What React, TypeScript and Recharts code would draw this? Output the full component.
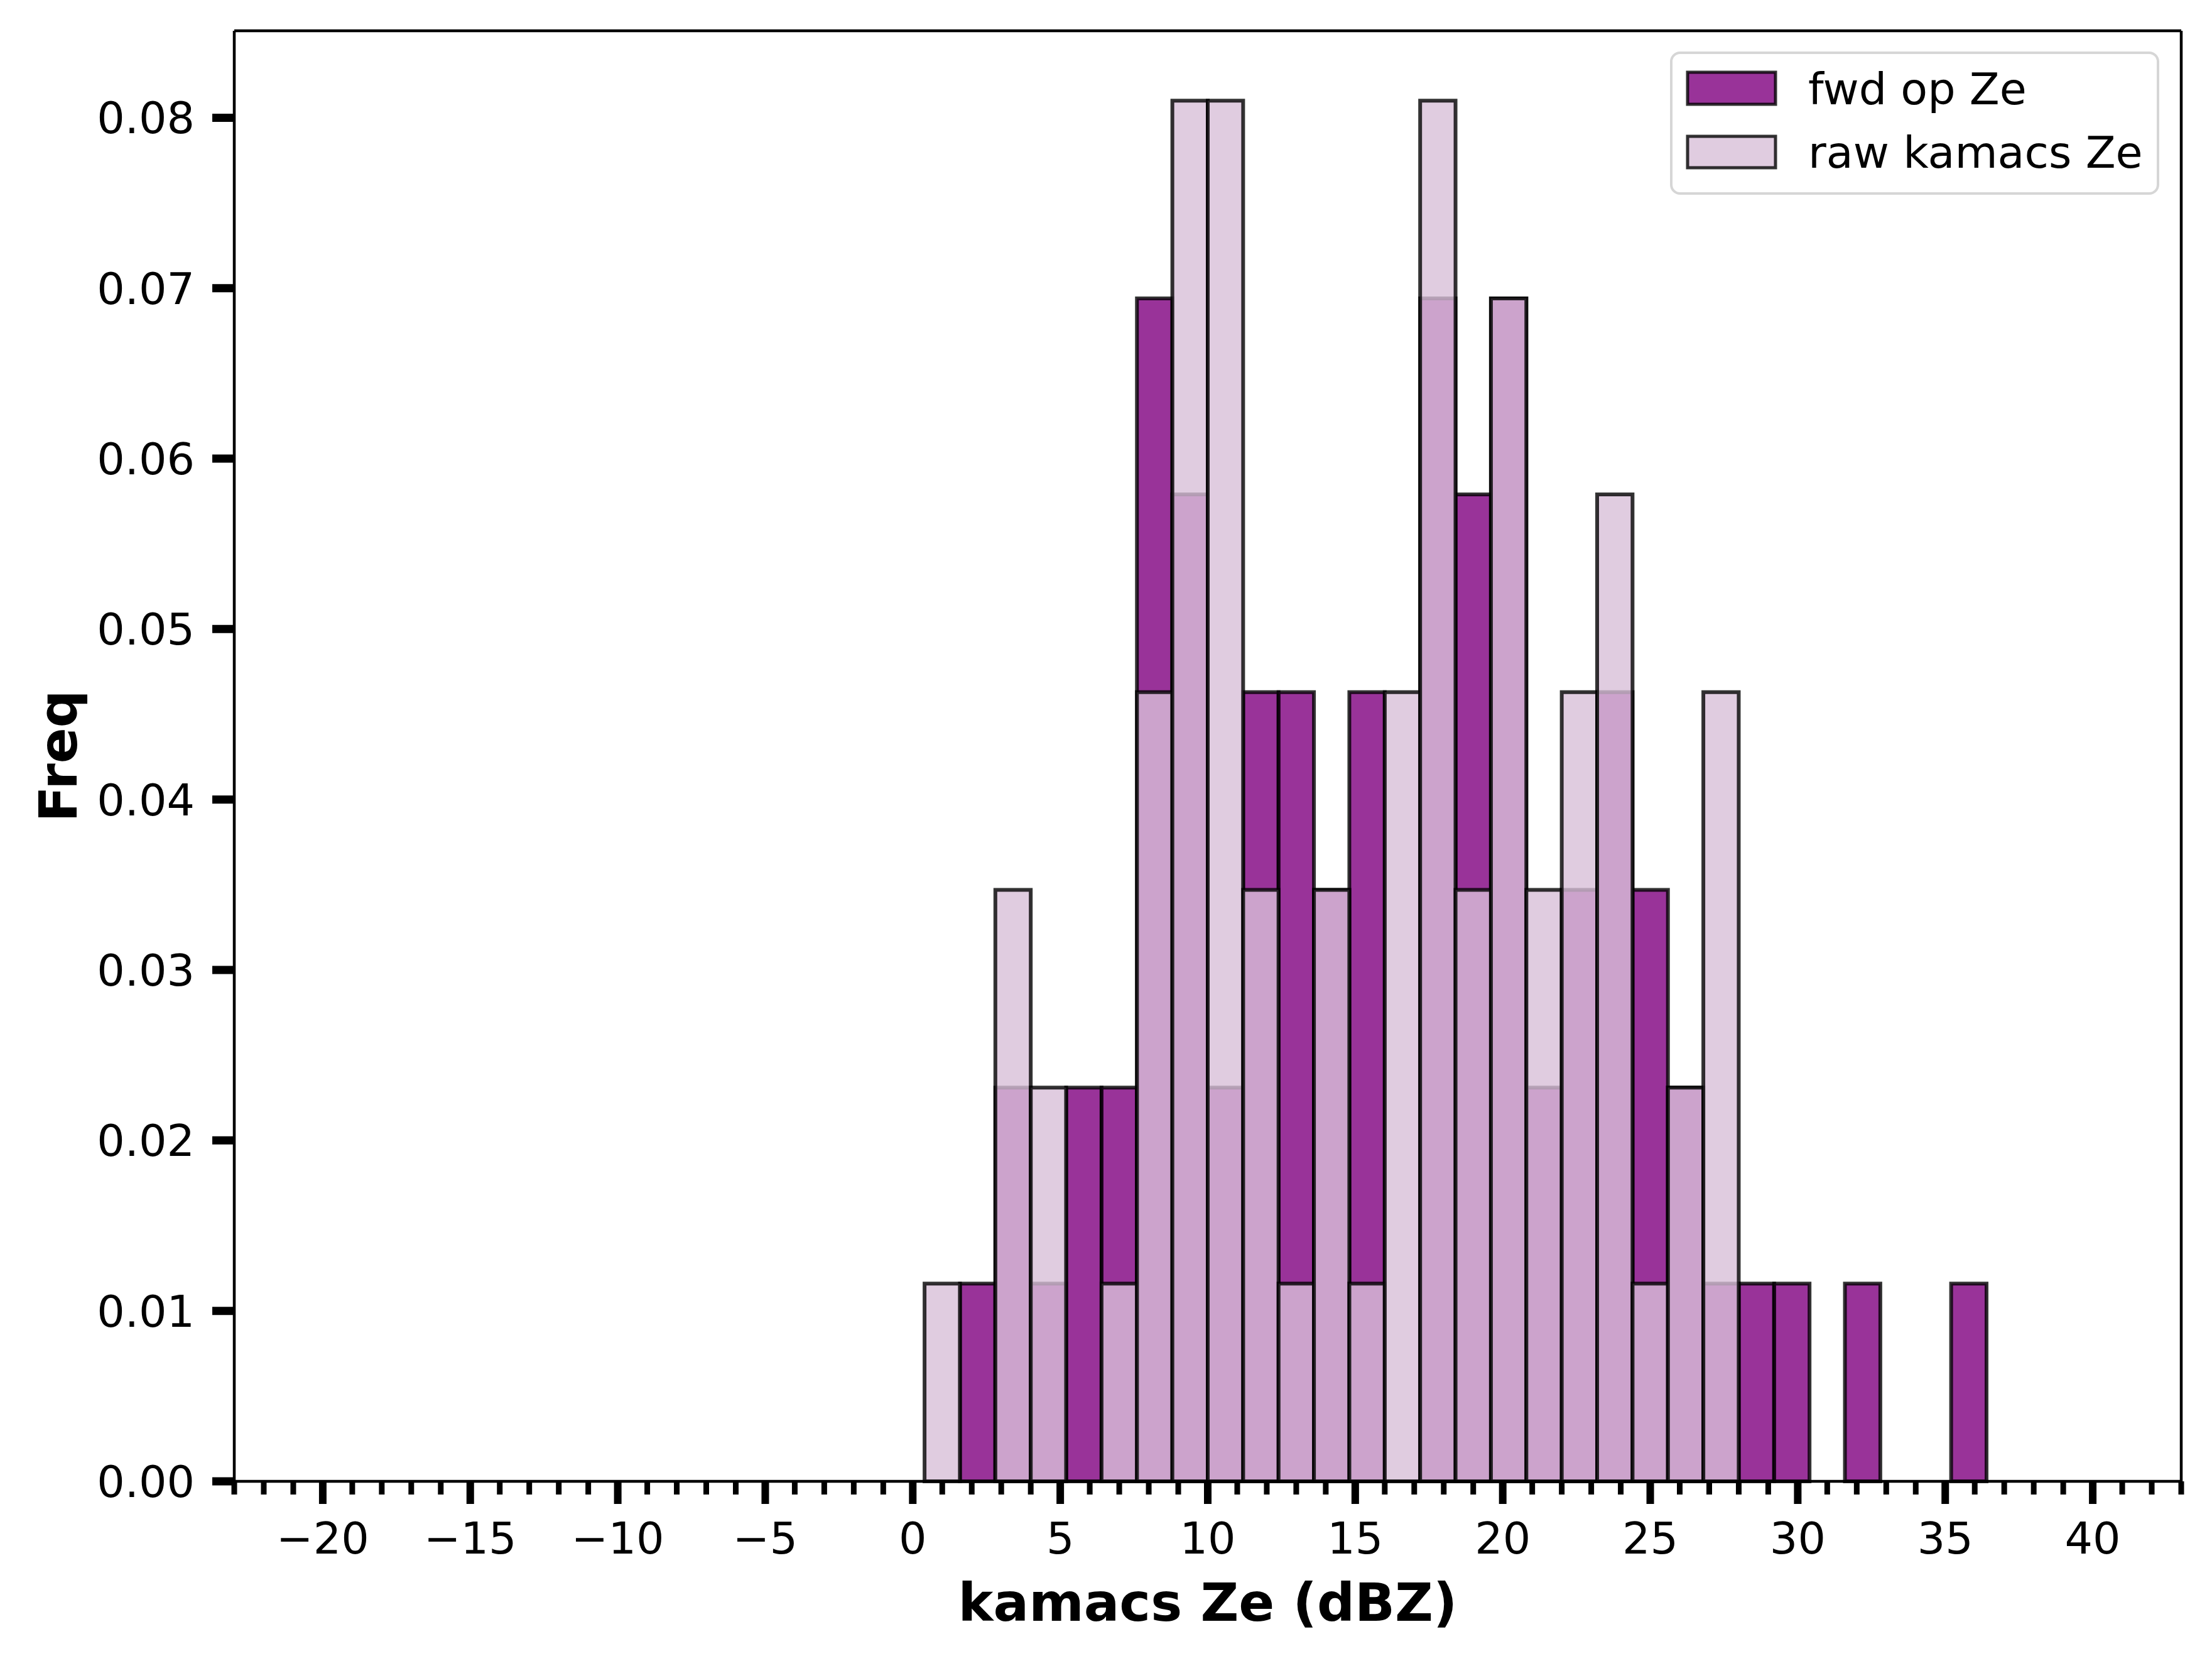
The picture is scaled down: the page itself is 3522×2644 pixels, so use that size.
import { ComposedChart, XAxis, YAxis, ReferenceArea, ReferenceLine, Legend } from "recharts";

// histogram bin edges (dBZ), 30 bins of 1.2
const binEdges = [
  0.4, 1.6, 2.8, 4.0, 5.2, 6.4, 7.6, 8.8, 10.0, 11.2, 12.4, 13.6, 14.8, 16.0, 17.2, 18.4,
  19.6, 20.8, 22.0, 23.2, 24.4, 25.6, 26.8, 28.0, 29.2, 30.4, 31.6, 32.8, 34.0, 35.2, 36.4
];

const fwdOpZe = [
  0, 0.0116, 0.0231, 0.0116, 0.0231, 0.0231, 0.0694, 0.0579, 0.0231, 0.0463, 0.0463, 0.0347,
  0.0463, 0, 0.0694, 0.0579, 0.0694, 0.0231, 0.0347, 0.0463, 0.0347, 0.0231, 0.0116, 0.0116,
  0.0116, 0, 0.0116, 0, 0, 0.0116
];

const rawKamacsZe = [
  0.0116, 0, 0.0347, 0.0231, 0, 0.0116, 0.0463, 0.081, 0.081, 0.0347, 0.0116, 0.0347, 0.0116,
  0.0463, 0.081, 0.0347, 0.0694, 0.0347, 0.0463, 0.0579, 0.0116, 0.0231, 0.0463, 0, 0, 0, 0,
  0, 0, 0
];

const seriesNames = ["fwd op Ze", "raw kamacs Ze"];
const xDomain = [-23, 43];
const yDomain = [0, 0.0851];
const xMajorTicks = [-20, -15, -10, -5, 0, 5, 10, 15, 20, 25, 30, 35, 40];
const xMinorTicks = Array.from({ length: 67 }, (_, i) => i - 23);
const yTicks = [0, 0.01, 0.02, 0.03, 0.04, 0.05, 0.06, 0.07, 0.08];

const bins = fwdOpZe.map((fwd, i) => ({
  x0: binEdges[i],
  x1: binEdges[i + 1],
  fwd,
  raw: rawKamacsZe[i]
}));

const FONT = "DejaVu Sans";
const FWD_FILL = "#800080";
const RAW_FILL = "#d8bfd8";
const SPINE = 4.5;

function fmtX(v: number) {
  return v < 0 ? `\u2212${-v}` : `${v}`;
}

function XTick(props: any) {
  const { x, y, payload } = props;
  const v = payload.value;
  const major = xMajorTicks.includes(v);
  return (
    <g>
      <line x1={x} x2={x} y1={y} y2={y + (major ? 36 : 21)} stroke="#000" strokeWidth={major ? 12 : 9} />
      {major && (
        <text x={x} y={y + 115} textAnchor="middle" fontFamily={FONT} fontSize={70} fill="#000">
          {fmtX(v)}
        </text>
      )}
    </g>
  );
}

function YTick(props: any) {
  const { x, y, payload } = props;
  return (
    <g>
      <line x1={x - 35} x2={x} y1={y} y2={y} stroke="#000" strokeWidth={13} />
      <text x={x - 63} y={y + 25} textAnchor="end" fontFamily={FONT} fontSize={70} fill="#000">
        {payload.value.toFixed(2)}
      </text>
    </g>
  );
}

function LegendBox() {
  return (
    <svg width={790} height={240} style={{ display: "block" }}>
      <rect x={6} y={6} width={775} height={224} rx={14} fill="#fff" fillOpacity={0.8} stroke="#d6d6d6" strokeWidth={4} />
      <rect x={32} y={37} width={140} height={51} fill={FWD_FILL} fillOpacity={0.8} stroke="#000" strokeOpacity={0.8} strokeWidth={5} />
      <rect x={32} y={139} width={140} height={50} fill={RAW_FILL} fillOpacity={0.8} stroke="#000" strokeOpacity={0.8} strokeWidth={5} />
      <text x={224} y={88} fontFamily={FONT} fontSize={70} fill="#000">{seriesNames[0]}</text>
      <text x={224} y={189} fontFamily={FONT} fontSize={70} fill="#000">{seriesNames[1]}</text>
    </svg>
  );
}

export default function App() {
  return (
    <div style={{ position: "absolute", left: 0, top: 0, width: 3522, height: 2644, background: "#fff" }}>
      <ComposedChart width={3522} height={2644} data={bins} margin={{ top: 49, right: 49, bottom: 0, left: 0 }}>
        <XAxis
          dataKey="x0"
          type="number"
          domain={xDomain}
          allowDataOverflow
          ticks={xMinorTicks}
          interval={0}
          tickSize={0}
          tickMargin={0}
          tickLine={false}
          tick={(p: any) => <XTick {...p} />}
          axisLine={{ stroke: "#000", strokeWidth: SPINE }}
          height={286}
          label={{
            content: ({ viewBox }: any) => (
              <text
                x={viewBox.x + viewBox.width / 2}
                y={viewBox.y + 222}
                textAnchor="middle"
                fontFamily={FONT}
                fontWeight="bold"
                fontSize={84}
                fill="#000"
              >
                kamacs Ze (dBZ)
              </text>
            )
          }}
        />
        <YAxis
          type="number"
          domain={yDomain}
          allowDataOverflow
          ticks={yTicks}
          interval={0}
          tickSize={0}
          tickMargin={0}
          tickLine={false}
          tick={(p: any) => <YTick {...p} />}
          axisLine={{ stroke: "#000", strokeWidth: SPINE }}
          width={373}
          label={{
            content: ({ viewBox }: any) => {
              const cy = viewBox.y + viewBox.height / 2;
              return (
                <text
                  x={122}
                  y={cy}
                  transform={`rotate(-90 122 ${cy})`}
                  textAnchor="middle"
                  fontFamily={FONT}
                  fontWeight="bold"
                  fontSize={84}
                  fill="#000"
                >
                  Freq
                </text>
              );
            }
          }}
        />
        {bins
          .filter((b) => b.fwd > 0)
          .map((b) => (
            <ReferenceArea
              key={`fwd-${b.x0}`}
              x1={b.x0}
              x2={b.x1}
              y1={0}
              y2={b.fwd}
              fill={FWD_FILL}
              fillOpacity={0.8}
              stroke="#000"
              strokeOpacity={0.8}
              strokeWidth={6}
            />
          ))}
        {bins
          .filter((b) => b.raw > 0)
          .map((b) => (
            <ReferenceArea
              key={`raw-${b.x0}`}
              x1={b.x0}
              x2={b.x1}
              y1={0}
              y2={b.raw}
              fill={RAW_FILL}
              fillOpacity={0.8}
              stroke="#000"
              strokeOpacity={0.8}
              strokeWidth={6}
            />
          ))}
        {/* top and right spines */}
        <ReferenceLine y={yDomain[1]} stroke="#000" strokeWidth={SPINE} />
        <ReferenceLine x={xDomain[1]} stroke="#000" strokeWidth={SPINE} />
        <Legend
          layout="vertical"
          align="center"
          verticalAlign="middle"
          wrapperStyle={{ left: 2655, top: 78, width: 790, height: 240 }}
          content={() => <LegendBox />}
        />
      </ComposedChart>
    </div>
  );
}
